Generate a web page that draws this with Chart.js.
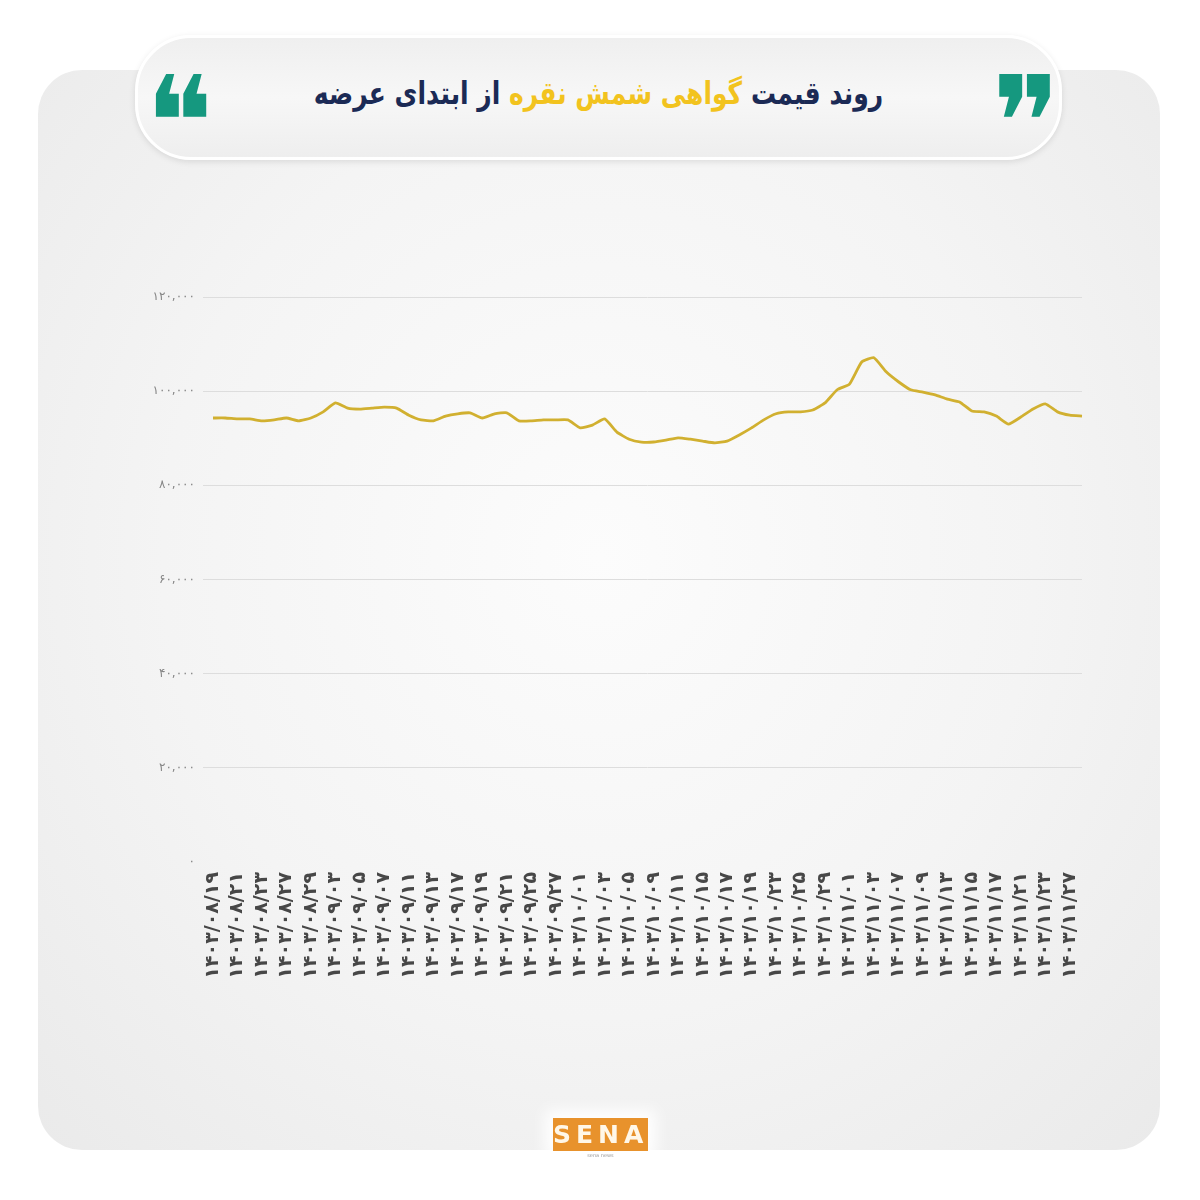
<!DOCTYPE html>
<html>
<head>
<meta charset="utf-8">
<script src="https://cdn.jsdelivr.net/npm/chart.js@4/dist/chart.umd.min.js"></script>
<style>
  html, body { margin: 0; padding: 0; background: #ffffff; }
  #page { position: relative; width: 1200px; height: 1200px; overflow: hidden; background: #ffffff; }
  #card {
    position: absolute; left: 38px; top: 70px; width: 1122px; height: 1080px;
    border-radius: 44px;
    background: radial-gradient(ellipse at 50% 45%, #fcfcfc 0%, #f4f4f4 55%, #eaeaea 100%);
  }
  #header {
    position: absolute; left: 135px; top: 35px; width: 927px; height: 125px;
    border-radius: 56px; box-sizing: border-box;
    background: linear-gradient(180deg, #efefef 0%, #f7f7f7 50%, #eeeeee 100%);
    border: 3px solid #ffffff;
    box-shadow: 0 2px 6px rgba(0,0,0,0.10);
  }
  #title {
    position: absolute; left: 135px; top: 74px; width: 927px; text-align: center;
    font-family: "DejaVu Sans", sans-serif; font-weight: bold; font-size: 25px;
    color: #1b2a55; direction: rtl; line-height: 40px; letter-spacing: -0.6px;
    transform: scaleY(1.25);
  }
  #title .hl { color: #f2c31e; }
  .quote {
    position: absolute; top: 58px; font-family: "DejaVu Sans", sans-serif;
    font-size: 128px; line-height: 130px; color: #15987f;
  }
  #qL { left: 145px; }
  #qR { left: 992px; }
  #logo {
    position: absolute; left: 553px; top: 1118px; width: 95px; height: 33px;
    background: #e8922c; color: #fff7e8; font-family: "DejaVu Sans", sans-serif; font-weight: bold;
    font-size: 25px; line-height: 33px; text-align: center; letter-spacing: 5px;
    box-shadow: 0 0 14px 8px rgba(255,255,255,0.95);
  }
  #logosub {
    position: absolute; left: 553px; top: 1152px; width: 95px; text-align: center;
    font-family: "DejaVu Sans", sans-serif; font-size: 5px; color: #999;
  }
  #wrap { position: absolute; left: 0; top: 0; width: 1200px; height: 1200px; }
</style>
</head>
<body>
<div id="page">
  <div id="card"></div>
  <div id="header"></div>
  <div class="quote" id="qL">❝</div>
  <div class="quote" id="qR">❞</div>
  <div id="title">روند قیمت <span class="hl">گواهی شمش نقره</span> از ابتدای عرضه</div>
  <div id="wrap"><canvas id="chart" width="1200" height="1200"></canvas></div>
  <div id="logo">SENA</div>
  <div id="logosub">sena news</div>
</div>
<script>
const dates = [
  '۱۴۰۳/۰۸/۱۹','۱۴۰۳/۰۸/۲۰','۱۴۰۳/۰۸/۲۱','۱۴۰۳/۰۸/۲۲','۱۴۰۳/۰۸/۲۳',
  '۱۴۰۳/۰۸/۲۶','۱۴۰۳/۰۸/۲۷','۱۴۰۳/۰۸/۲۸','۱۴۰۳/۰۸/۲۹','۱۴۰۳/۰۸/۳۰',
  '۱۴۰۳/۰۹/۰۳','۱۴۰۳/۰۹/۰۴','۱۴۰۳/۰۹/۰۵','۱۴۰۳/۰۹/۰۶','۱۴۰۳/۰۹/۰۷',
  '۱۴۰۳/۰۹/۱۰','۱۴۰۳/۰۹/۱۱','۱۴۰۳/۰۹/۱۲','۱۴۰۳/۰۹/۱۳','۱۴۰۳/۰۹/۱۴',
  '۱۴۰۳/۰۹/۱۷','۱۴۰۳/۰۹/۱۸','۱۴۰۳/۰۹/۱۹','۱۴۰۳/۰۹/۲۰','۱۴۰۳/۰۹/۲۱',
  '۱۴۰۳/۰۹/۲۴','۱۴۰۳/۰۹/۲۵','۱۴۰۳/۰۹/۲۶','۱۴۰۳/۰۹/۲۷','۱۴۰۳/۰۹/۲۸',
  '۱۴۰۳/۱۰/۰۱','۱۴۰۳/۱۰/۰۲','۱۴۰۳/۱۰/۰۳','۱۴۰۳/۱۰/۰۴','۱۴۰۳/۱۰/۰۵',
  '۱۴۰۳/۱۰/۰۸','۱۴۰۳/۱۰/۰۹','۱۴۰۳/۱۰/۱۰','۱۴۰۳/۱۰/۱۱','۱۴۰۳/۱۰/۱۲',
  '۱۴۰۳/۱۰/۱۵','۱۴۰۳/۱۰/۱۶','۱۴۰۳/۱۰/۱۷','۱۴۰۳/۱۰/۱۸','۱۴۰۳/۱۰/۱۹',
  '۱۴۰۳/۱۰/۲۲','۱۴۰۳/۱۰/۲۳','۱۴۰۳/۱۰/۲۴','۱۴۰۳/۱۰/۲۵','۱۴۰۳/۱۰/۲۶',
  '۱۴۰۳/۱۰/۲۹','۱۴۰۳/۱۰/۳۰','۱۴۰۳/۱۱/۰۱','۱۴۰۳/۱۱/۰۲','۱۴۰۳/۱۱/۰۳',
  '۱۴۰۳/۱۱/۰۶','۱۴۰۳/۱۱/۰۷','۱۴۰۳/۱۱/۰۸','۱۴۰۳/۱۱/۰۹','۱۴۰۳/۱۱/۱۰',
  '۱۴۰۳/۱۱/۱۳','۱۴۰۳/۱۱/۱۴','۱۴۰۳/۱۱/۱۵','۱۴۰۳/۱۱/۱۶','۱۴۰۳/۱۱/۱۷',
  '۱۴۰۳/۱۱/۲۰','۱۴۰۳/۱۱/۲۱','۱۴۰۳/۱۱/۲۲','۱۴۰۳/۱۱/۲۳','۱۴۰۳/۱۱/۲۴',
  '۱۴۰۳/۱۱/۲۷','۱۴۰۳/۱۱/۲۸'
];

const prices = [
  94300, 94300, 94100, 94100, 93700, 93900, 94300, 93700, 94300, 95600,
  97500, 96400, 96200, 96400, 96600, 96400, 94900, 93900, 93700, 94700,
  95200, 95400, 94300, 95200, 95400, 93700, 93700, 93900, 93900, 93900,
  92200, 92800, 94100, 91300, 89800, 89200, 89200, 89600, 90100, 89800,
  89400, 89000, 89400, 90700, 92200, 93900, 95200, 95600, 95600, 96000,
  97500, 100300, 101500, 106200, 107100, 104100, 102000, 100300, 99800, 99200,
  98300, 97700, 95800, 95600, 94700, 93000, 94500, 96200, 97300, 95600,
  94900, 94700
];

const yTickLabels = ['۰', '۲۰,۰۰۰', '۴۰,۰۰۰', '۶۰,۰۰۰', '۸۰,۰۰۰', '۱۰۰,۰۰۰', '۱۲۰,۰۰۰'];
const yMax = 120000;
const yStep = 20000;

new Chart(document.getElementById('chart'), {
  type: 'line',
  data: {
    labels: dates,
    datasets: [{
      data: prices,
      borderColor: '#d1b030',
      borderWidth: 2.8,
      pointRadius: 0,
      tension: 0.15,
      fill: false
    }]
  },
  options: {
    responsive: false,
    animation: false,
    layout: { padding: { left: 130, top: 297, right: 118, bottom: 190 } },
    plugins: { legend: { display: false }, tooltip: { enabled: false } },
    scales: {
      x: {
        offset: false,
        grid: { display: false },
        border: { display: false },
        afterFit: (s) => { s.height = 148; },
        ticks: {
          autoSkip: false,
          minRotation: 90,
          maxRotation: 90,
          padding: 2,
          color: '#474747',
          font: { family: 'DejaVu Sans', size: 19, weight: 'bold' },
          callback: function (v, i) { return i % 2 === 0 ? dates[i] : ''; }
        }
      },
      y: {
        min: 0,
        max: yMax,
        border: { display: false },
        afterFit: (s) => { s.width = 83; },
        grid: {
          color: (ctx) => (ctx.tick && ctx.tick.value === 0) ? 'rgba(0,0,0,0)' : '#dddddd',
          lineWidth: 1,
          tickLength: 10,
          tickColor: (ctx) => (ctx.tick && ctx.tick.value === 0) ? 'rgba(0,0,0,0)' : '#dddddd'
        },
        ticks: {
          stepSize: yStep,
          padding: 8,
          color: '#858585',
          font: { family: 'DejaVu Sans', size: 12 },
          callback: function (v, i) { return yTickLabels[i]; }
        }
      }
    }
  }
});
</script>
</body>
</html>
